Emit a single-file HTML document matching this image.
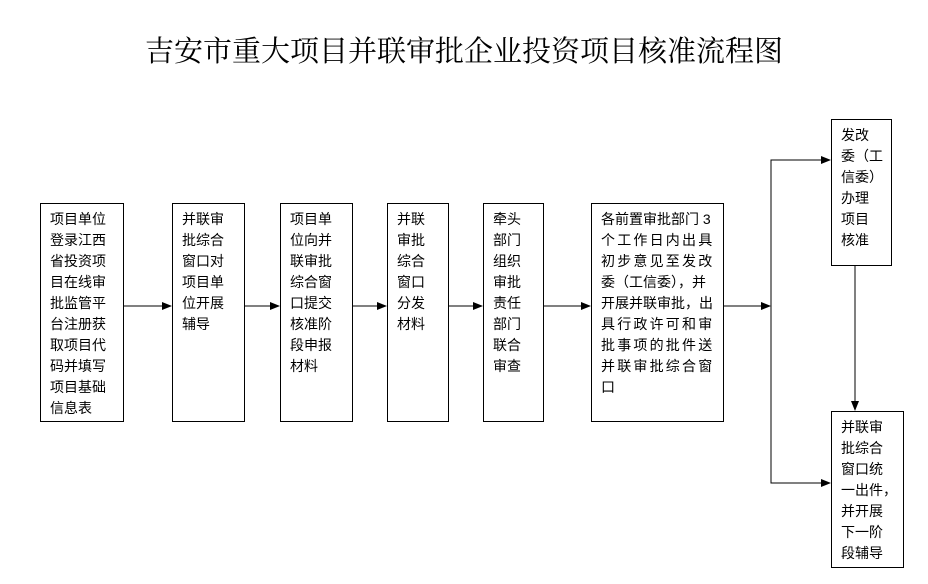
<!DOCTYPE html>
<html><head><meta charset="utf-8"><style>
body{margin:0;width:928px;height:584px;background:#fff;position:relative;overflow:hidden;font-family:"Liberation Sans","Noto Sans CJK SC",sans-serif;}
.b{position:absolute;border:1px solid #000;box-sizing:border-box;font-size:14px;line-height:21px;padding:5px 0 0 9px;color:#000;white-space:nowrap}
.t{position:absolute;left:0;width:928px;top:29px;text-align:center;font-family:"Noto Serif CJK SC","WenQuanYi Zen Hei",serif;font-size:29px;line-height:42px}
svg{position:absolute;left:0;top:0}
</style></head><body>
<div class="t">吉安市重大项目并联审批企业投资项目核准流程图</div>
<svg width="928" height="584">
<defs><marker id="a" markerWidth="10" markerHeight="8" refX="9" refY="4" orient="auto" markerUnits="userSpaceOnUse"><path d="M0,0L10,4L0,8z" fill="#000"/></marker></defs>
<g stroke="#000" stroke-width="1" fill="none">
<line x1="123" y1="306" x2="171" y2="306" marker-end="url(#a)"/>
<line x1="244" y1="306" x2="279" y2="306" marker-end="url(#a)"/>
<line x1="352" y1="306" x2="386" y2="306" marker-end="url(#a)"/>
<line x1="448" y1="306" x2="482" y2="306" marker-end="url(#a)"/>
<line x1="543" y1="306" x2="590" y2="306" marker-end="url(#a)"/>
<line x1="723" y1="306" x2="770" y2="306" marker-end="url(#a)"/>
<polyline points="830,160 771,160 771,483 830,483"/>
<line x1="771" y1="160" x2="830" y2="160" marker-end="url(#a)"/>
<line x1="771" y1="483" x2="830" y2="483" marker-end="url(#a)"/>
<line x1="855" y1="265" x2="855" y2="410" marker-end="url(#a)"/>
</g></svg>
<div class="b" style="left:40px;top:203px;width:84px;height:219px">项目单位<br>登录江西<br>省投资项<br>目在线审<br>批监管平<br>台注册获<br>取项目代<br>码并填写<br>项目基础<br>信息表</div>
<div class="b" style="left:172px;top:203px;width:73px;height:219px">并联审<br>批综合<br>窗口对<br>项目单<br>位开展<br>辅导</div>
<div class="b" style="left:280px;top:203px;width:73px;height:219px">项目单<br>位向并<br>联审批<br>综合窗<br>口提交<br>核准阶<br>段申报<br>材料</div>
<div class="b" style="left:387px;top:203px;width:62px;height:219px">并联<br>审批<br>综合<br>窗口<br>分发<br>材料</div>
<div class="b" style="left:483px;top:203px;width:61px;height:219px">牵头<br>部门<br>组织<br>审批<br>责任<br>部门<br>联合<br>审查</div>
<div class="b" style="left:591px;top:203px;width:133px;height:219px">各前置审批部门 3<br><span style="letter-spacing:2.2px">个工作日内出具<br>初步意见至发改<br></span>委（工信委），并<br>开展并联审批，出<br><span style="letter-spacing:2.2px">具行政许可和审<br>批事项的批件送<br>并联审批综合窗</span><br>口</div>
<div class="b" style="left:831px;top:119px;width:61px;height:147px">发改<br>委（工<br>信委）<br>办理<br>项目<br>核准</div>
<div class="b" style="left:831px;top:411px;width:73px;height:157px">并联审<br>批综合<br>窗口统<br>一出件，<br>并开展<br>下一阶<br>段辅导</div>
</body></html>
